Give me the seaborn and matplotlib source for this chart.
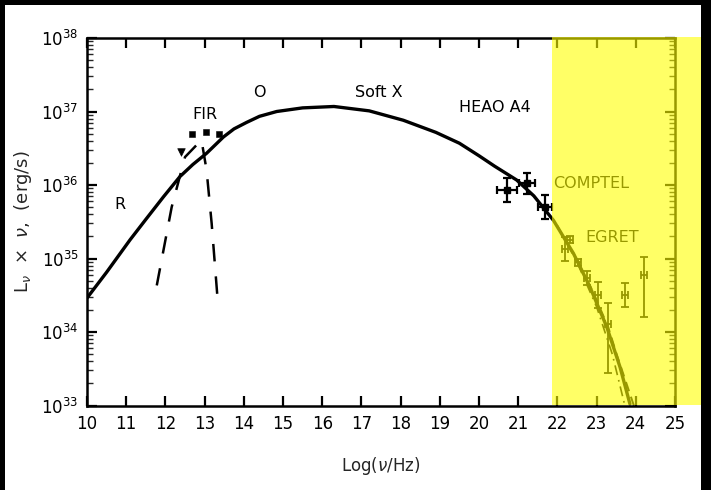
import numpy as np
import pandas as pd
import seaborn as sns
import matplotlib
matplotlib.use("Agg")
import matplotlib.pyplot as plt
from matplotlib.patches import Rectangle
from matplotlib.ticker import LogLocator, NullFormatter, FixedLocator

# ---------------- data ----------------
sed_x = [10.0, 10.5, 11.1, 11.5, 11.95, 12.37, 12.7, 13.05, 13.48, 13.75, 14.07, 14.4,
         14.84, 15.5, 16.3, 17.2, 18.07, 18.9, 19.5, 20.0, 20.4, 20.96, 21.4, 21.9,
         22.41, 22.83, 23.26, 23.6, 23.85]
sed_y = [2.9e34, 6.5e34, 1.8e35, 3.4e35, 6.9e35, 1.3e36, 1.9e36, 2.7e36, 4.5e36, 5.8e36,
         7.1e36, 8.6e36, 1.0e37, 1.12e37, 1.17e37, 1.02e37, 7.6e36, 5.2e36, 3.7e36,
         2.5e36, 1.8e36, 1.17e36, 7.1e35, 3.3e35, 1.17e35, 4.1e34, 1.17e34, 3.3e33, 1.05e33]

fir_x = [11.78, 12.16, 12.5, 12.92, 13.05, 13.18, 13.35]
fir_y = [4.3e34, 5.0e35, 2.4e36, 4.1e36, 1.6e36, 3.0e35, 2.1e34]

gam_dash_x = [22.4, 22.9, 23.3, 23.5, 23.7, 23.95]
gam_dash_y = [1.2e35, 3.6e34, 1.15e34, 5.2e33, 2.5e33, 1.0e33]
gam_dd_x = [22.0, 22.5, 23.0, 23.4, 23.72]
gam_dd_y = [2.8e35, 8.9e34, 2.2e34, 5.0e33, 1.0e33]

fir_pts_x = [12.67, 13.04, 13.38]
fir_pts_y = [5.0e36, 5.2e36, 5.0e36]
fir_tri_x = [12.41]
fir_tri_y = [2.8e36]

heao_x = [20.71, 21.22, 21.68]
heao_y = [8.5e35, 1.05e36, 5.0e35]
heao_lo = [5.8e35, 7.6e35, 3.4e35]
heao_hi = [1.26e36, 1.45e36, 7.4e35]
heao_xerr = [0.25, 0.2, 0.18]

egret_x = [22.19, 22.32, 22.53, 22.75, 23.04, 23.30, 23.72, 24.21]
egret_y = [1.35e35, 1.8e35, 8.9e34, 5.4e34, 3.2e34, 1.3e34, 3.2e34, 5.9e34]
egret_lo = [9.3e34, 1.6e35, 7.8e34, 4.3e34, 2.1e34, 2.8e33, 2.2e34, 1.6e34]
egret_hi = [1.95e35, 2.0e35, 1.0e35, 6.8e34, 4.8e34, 2.5e34, 4.6e34, 1.05e35]

band_labels = ["R", "FIR", "O", "Soft X", "HEAO A4", "COMPTEL", "EGRET"]
band_x = [10.85, 13.0, 14.41, 17.45, 20.4, 22.85, 23.4]
band_y = [5.4e35, 9.0e36, 1.8e37, 1.8e37, 1.15e37, 1.05e36, 1.95e35]

x_ticks = list(range(10, 26))
y_ticks = [1e33, 1e34, 1e35, 1e36, 1e37, 1e38]

# ---------------- figure ----------------
sns.set_style("ticks")
plt.rcParams['font.family'] = ['DejaVu Sans']
plt.rcParams['mathtext.fontset'] = 'dejavusans'

fig = plt.figure(figsize=(7.11, 4.90), dpi=100, facecolor="black")
fig.patches.append(Rectangle((5 / 711, -0.02), 696 / 711, 485 / 490 + 0.02,
                             transform=fig.transFigure,
                             facecolor="white", edgecolor="none", zorder=-1))
ax = fig.add_axes([87 / 711, (490 - 405.5) / 490, 588 / 711, 367.5 / 490])
ax.set_facecolor("white")

sns.lineplot(x=sed_x, y=sed_y, ax=ax, color="black", lw=2.4, sort=False, estimator=None)
sns.lineplot(x=fir_x, y=fir_y, ax=ax, color="black", lw=1.8, sort=False, estimator=None,
             linestyle=(0, (7, 6)))
sns.lineplot(x=gam_dash_x, y=gam_dash_y, ax=ax, color="black", lw=1.4, sort=False,
             estimator=None, linestyle=(0, (5, 3)))
sns.lineplot(x=gam_dd_x, y=gam_dd_y, ax=ax, color="black", lw=1.2, sort=False,
             estimator=None, linestyle=(0, (6, 3, 1, 3)))
sns.scatterplot(x=fir_pts_x, y=fir_pts_y, ax=ax, marker="s", s=22, color="black", edgecolor="black")
sns.scatterplot(x=fir_tri_x, y=fir_tri_y, ax=ax, marker="v", s=30, color="black", edgecolor="black")

hy = np.array(heao_y)
ax.errorbar(heao_x, heao_y, xerr=heao_xerr,
            yerr=[hy - np.array(heao_lo), np.array(heao_hi) - hy],
            fmt="s", ms=4, color="black", elinewidth=1.6, capsize=3, capthick=1.6)
ey = np.array(egret_y)
ax.errorbar(egret_x, egret_y, xerr=0.08,
            yerr=[ey - np.array(egret_lo), np.array(egret_hi) - ey],
            fmt="none", color="black", elinewidth=1.3, capsize=3, capthick=1.3)

for lab, bx, by in zip(band_labels, band_x, band_y):
    ax.text(bx, by, lab, ha="center", va="center", fontsize=11.5, color="black")

ax.set_yscale("log")
ax.set_xlim(10, 25)
ax.set_ylim(1e33, 1e38)
ax.xaxis.set_major_locator(FixedLocator(x_ticks))
ax.yaxis.set_major_locator(FixedLocator(y_ticks))
ax.yaxis.set_minor_locator(LogLocator(base=10, subs=np.arange(2, 10)))
ax.yaxis.set_minor_formatter(NullFormatter())
ax.tick_params(axis="both", which="major", direction="in", length=7, width=1.6,
               top=True, right=True, labelsize=12, colors="black")
ax.tick_params(axis="y", which="minor", direction="in", length=4, width=1.0,
               left=True, right=True)
ax.tick_params(axis="x", which="major", pad=7)
ax.tick_params(axis="y", which="major", pad=6)
for s in ax.spines.values():
    s.set_linewidth(1.8)
    s.set_color("black")

ax.set_xlabel(r"Log($\nu$/Hz)", fontsize=12, labelpad=16)
ax.set_ylabel(r"L$_\nu$  $\times$  $\nu$,  (erg/s)", fontsize=13, labelpad=5)

# yellow highlight over the gamma-ray part
fig.patches.append(Rectangle((552 / 711, (490 - 405) / 490), 149 / 711, 368 / 490,
                             transform=fig.transFigure, facecolor="#ffff00",
                             edgecolor="none", alpha=0.6, zorder=10))

fig.savefig("out.png", dpi=100, facecolor="black")
